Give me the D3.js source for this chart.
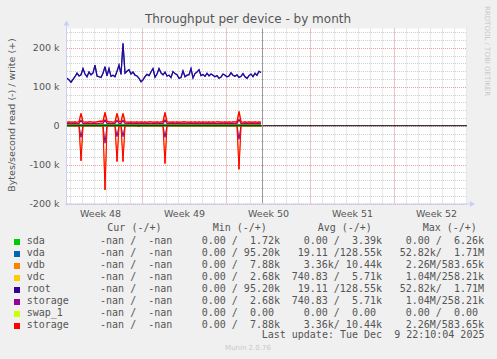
<!DOCTYPE html>
<html><head><meta charset="utf-8">
<script src="https://cdn.jsdelivr.net/npm/d3@7"></script>
<style>html,body{margin:0;padding:0;background:#f0f0f0;}svg{display:block;}</style>
</head><body>
<svg id="chart" width="497" height="359"></svg>
<script>
// ---------------- data ----------------
const title = "Throughput per device - by month";
const yAxisTitle = "Bytes/second read (-) / write (+)";
const yTicks = [-200, -100, 0, 100, 200];          // k
const weekLabels = ["Week 48", "Week 49", "Week 50", "Week 51", "Week 52"];
const weekLabelDays = [2.8, 9.8, 16.8, 23.8, 30.8];  // label centre, days from graph start
const weekStartDays = [6.275, 13.275, 20.275, 27.275];
const nowDay = 16.22;
const sampleStepDays = 1 / 6;                         // 4 hours

// values in k bytes/s, one sample every 4 h from the graph start
const rootWrite = [122,118,112,119,126,135,128,131,147,133,
  126,138,131,136,156,128,126,124,135,152,
  128,147,127,130,126,140,156,132,212,135,
  140,144,133,138,130,128,122,113,118,126,
  132,129,138,147,125,133,147,136,131,138,
  128,130,124,139,134,131,122,124,141,126,
  130,131,147,123,134,138,144,129,132,127,
  135,128,133,130,126,129,122,125,133,130,
  126,128,136,130,127,131,124,127,134,126,
  122,129,133,126,135,130,140,137];
const rootRead = [0,0,0,0,0,0,0,0,0,0, 0,0,0,0,0,0,0,0,0,0, 0,0,0,0,0,0,0,0,0,0,
  0,0,0,0,0,0,-2,0,0,0, 0,0,0,0,0,0,0,0,0,0, 0,0,0,0,0,0,0,0,0,0,
  0,0,0,0,0,0,0,0,0,0, 0,0,0,0,0,0,0,0,0,0, 0,0,0,0,0,0,0,0,0,0, 0,0,0,0,0,0,0,0];
const storageWrite = [9,10,9,9,10,9,10,32,10,9,
  9,10,10,9,9,10,11,12,11,34,
  11,10,10,9,10,32,11,10,32,10,
  9,9,10,9,9,10,9,10,9,10,
  9,10,10,9,9,10,9,10,10,34,
  10,9,9,10,9,10,9,9,10,10,
  9,9,10,9,10,9,10,9,10,9,
  9,10,9,10,9,10,10,9,9,10,
  9,10,9,10,10,9,37,10,9,10,
  9,10,9,9,10,9,10,9];
const storageRead = [0,0,0,0,0,0,0,-90,0,0, 0,0,0,0,0,0,0,0,0,-165, 0,0,0,0,0,-92,0,0,-92,0,
  0,0,0,0,0,0,0,0,0,0, 0,0,0,0,0,0,0,0,0,-97, 0,0,0,0,0,0,0,0,0,0,
  0,0,0,0,0,0,0,0,0,0, 0,0,0,0,0,0,0,0,0,0, 0,0,0,0,0,0,-112,0,0,0, 0,0,0,0,0,0,0,0];
const storage2Write = [6,6,5,6,6,5,6,14,6,5, 6,6,5,6,6,5,6,7,6,15, 6,6,5,6,6,14,6,6,14,6,
  5,6,6,5,6,6,5,6,6,5, 6,6,5,6,6,5,6,6,5,15, 6,5,6,6,5,6,6,5,6,6,
  5,6,6,5,6,6,5,6,6,5, 6,6,5,6,6,5,6,6,5,6, 6,5,6,6,5,6,16,6,5,6, 6,5,6,6,5,6,6,5];
const storage2Read = [0,0,0,0,0,0,0,-30,0,0, 0,0,0,0,0,0,0,0,0,-45, 0,0,0,0,0,-28,0,0,-28,0,
  0,0,0,0,0,0,0,0,0,0, 0,0,0,0,0,0,0,0,0,-30, 0,0,0,0,0,0,0,0,0,0,
  0,0,0,0,0,0,0,0,0,0, 0,0,0,0,0,0,0,0,0,0, 0,0,0,0,0,0,-35,0,0,0, 0,0,0,0,0,0,0,0];
const sdaWrite = [3,3,3.5,3,3,3.5,3,3,3.5,3, 3,3.5,3,3,3.5,3,3,3,3.5,3, 3,3.5,3,3,3,3.5,3,3,3.5,3,
  3,3,3.5,3,3,3.5,3,3,3,3.5, 3,3,3.5,3,3,3.5,3,3,3,3.5, 3,3,3.5,3,3,3,3.5,3,3,3.5,
  3,3,3,3.5,3,3,3.5,3,3,3, 3.5,3,3,3.5,3,3,3,3.5,3,3, 3.5,3,3,3,3.5,3,3,3.5,3,3, 3,3.5,3,3,3.5,3,3,3.5];
const swapValues = [0,0,0,0,0,0,0,0,0,0, 0,0,0,0,0,0,0,0,0,0, 0,0,0,0,0,0,0,0,0,0,
  0,0,0,0,0,0,0,0,0,0, 0,0,0,0,0,0,0,0,0,0, 0,0,0,0,0,0,0,0,0,0,
  0,0,0,0,0,0,0,0,0,0, 0,0,0,0,0,0,0,0,0,0, 0,0,0,0,0,0,0,0,0,0, 0,0,0,0,0,0,0,0];

const deviceNames = ["sda", "vda", "vdb", "vdc", "root", "storage", "swap_1", "storage"];
const deviceColors = ["#00CC00", "#0066B3", "#FF8000", "#FFCC00", "#330099", "#990099", "#CCFF00", "#FF0000"];
const deviceWrite = [sdaWrite, rootWrite, storageWrite, storage2Write, rootWrite, storage2Write, swapValues, storageWrite];
const deviceRead  = [swapValues, rootRead, storageRead, storage2Read, rootRead, storage2Read, swapValues, storageRead];
const legendHeader = ["Cur (-/+)", "Min (-/+)", "Avg (-/+)", "Max (-/+)"];
const curCol = ["  -nan /  -nan ","  -nan /  -nan ","  -nan /  -nan ","  -nan /  -nan ","  -nan /  -nan ","  -nan /  -nan ","  -nan /  -nan ","  -nan /  -nan "];
const minCol = ["  0.00 /  1.72k","  0.00 / 95.20k","  0.00 /  7.88k","  0.00 /  2.68k","  0.00 / 95.20k","  0.00 /  2.68k","  0.00 /  0.00 ","  0.00 /  7.88k"];
const avgCol = ["  0.00 /  3.39k"," 19.11 /128.55k","  3.36k/ 10.44k","740.83 /  5.71k"," 19.11 /128.55k","740.83 /  5.71k","  0.00 /  0.00 ","  3.36k/ 10.44k"];
const maxCol = ["  0.00 /  6.26k"," 52.82k/  1.71M","  2.26M/583.65k","  1.04M/258.21k"," 52.82k/  1.71M","  1.04M/258.21k","  0.00 /  0.00 ","  2.26M/583.65k"];
const lastUpdate = "Last update: Tue Dec  9 22:10:04 2025";
const version = "Munin 2.0.76";
const watermark = "RRDTOOL / TOBI OETIKER";

// ---------------- drawing ----------------
const svg = d3.select("#chart");
const P = {left: 67, right: 467, top: 28.5, bottom: 203.5};
const x = d3.scaleLinear().domain([0, 33.333]).range([P.left, P.right]);
const y = d3.scaleLinear().domain([-200, 250]).range([P.bottom, P.top]);
const sans = "'DejaVu Sans', sans-serif";
const mono = "'DejaVu Sans Mono', monospace";
const textCol = "#555";

svg.append("rect").attr("width", 497).attr("height", 359).attr("fill", "#f0f0f0");
svg.append("rect").attr("x", P.left).attr("y", P.top).attr("width", P.right - P.left)
  .attr("height", P.bottom - P.top).attr("fill", "#ffffff");

// minor grid
const g = svg.append("g");
d3.range(-200, 241, 20).forEach(v => {
  g.append("line").attr("x1", P.left).attr("x2", P.right).attr("y1", Math.round(y(v)) + 0.5).attr("y2", Math.round(y(v)) + 0.5)
    .attr("stroke", "#d0d0d0").attr("stroke-dasharray", "1,1");
});
d3.range(0.275, 33.3, 1).forEach(d => {
  g.append("line").attr("y1", P.top).attr("y2", P.bottom).attr("x1", Math.round(x(d)) + 0.5).attr("x2", Math.round(x(d)) + 0.5)
    .attr("stroke", "#d0d0d0").attr("stroke-dasharray", "1,1");
});
// major grid
yTicks.forEach(v => {
  g.append("line").attr("x1", P.left).attr("x2", P.right).attr("y1", Math.round(y(v)) + 0.5).attr("y2", Math.round(y(v)) + 0.5)
    .attr("stroke", "#eea0a0").attr("stroke-dasharray", "1,1");
});
weekStartDays.forEach(d => {
  g.append("line").attr("y1", P.top).attr("y2", P.bottom).attr("x1", Math.round(x(d)) + 0.5).attr("x2", Math.round(x(d)) + 0.5)
    .attr("stroke", "#eea0a0").attr("stroke-dasharray", "1,1");
});

// y tick labels
yTicks.forEach(v => {
  svg.append("text").attr("x", 59.5).attr("y", y(v) + 3.5).attr("text-anchor", "end")
    .attr("font-family", sans).attr("font-size", 9.5).attr("fill", textCol)
    .text(v === 0 ? "0" : v + " k");
});
// week labels
weekLabels.forEach((t, i) => {
  svg.append("text").attr("x", x(weekLabelDays[i])).attr("y", 216.5).attr("text-anchor", "middle")
    .attr("font-family", sans).attr("font-size", 9.5).attr("fill", textCol).text(t);
});

// series
const line = d3.line().x((d, i) => x(i * sampleStepDays)).y(d => y(d));
const series = svg.append("g").attr("fill", "none").attr("stroke-width", 1);
deviceRead.forEach((arr, i) => {
  series.append("path").attr("d", line(arr)).attr("stroke", deviceColors[i]);
});
const series2 = svg.append("g").attr("fill", "none").attr("stroke-width", 1.2);
deviceWrite.forEach((arr, i) => {
  series2.append("path").attr("d", line(arr)).attr("stroke", deviceColors[i]);
});
// zero line (drawn on top)
svg.append("line").attr("x1", P.left).attr("x2", P.right).attr("y1", y(0)).attr("y2", y(0))
  .attr("stroke", "#000").attr("stroke-width", 1);

// now line
svg.append("line").attr("x1", Math.round(x(nowDay)) + 0.5).attr("x2", Math.round(x(nowDay)) + 0.5)
  .attr("y1", P.top).attr("y2", P.bottom).attr("stroke", "#999").attr("stroke-width", 1);

// axes
const axCol = "#c8d0f4";
svg.append("line").attr("x1", P.left - 0.5).attr("x2", P.left - 0.5).attr("y1", P.bottom + 2).attr("y2", P.top - 4)
  .attr("stroke", axCol);
svg.append("path").attr("d", `M${P.left - 3.5},${P.top - 3} L${P.left - 0.5},${P.top - 8} L${P.left + 2.5},${P.top - 3} Z`).attr("fill", axCol);
svg.append("line").attr("x1", P.left - 2).attr("x2", P.right + 4).attr("y1", P.bottom + 0.5).attr("y2", P.bottom + 0.5)
  .attr("stroke", axCol);
svg.append("path").attr("d", `M${P.right + 3},${P.bottom - 2.5} L${P.right + 8},${P.bottom + 0.5} L${P.right + 3},${P.bottom + 3.5} Z`).attr("fill", axCol);

// titles
svg.append("text").attr("x", 248).attr("y", 22.5).attr("text-anchor", "middle")
  .attr("font-family", sans).attr("font-size", 12).attr("fill", textCol).text(title);
svg.append("text").attr("transform", "translate(14.5,115) rotate(-90)").attr("text-anchor", "middle")
  .attr("font-family", sans).attr("font-size", 9.5).attr("fill", textCol).text(yAxisTitle);
svg.append("text").attr("transform", "translate(484.5,6) rotate(90)").attr("text-anchor", "start")
  .attr("font-family", sans).attr("font-size", 7).attr("fill", "#c8c8c8").text(watermark);

// legend
const leg = svg.append("g").attr("font-family", mono).attr("font-size", 10).attr("fill", textCol)
  .style("white-space", "pre");
const headerX = [107.3, 212.7, 317.7, 422.7];
legendHeader.forEach((t, i) => {
  leg.append("text").attr("x", headerX[i]).attr("y", 231).attr("xml:space", "preserve").text(t);
});
const colX = [88, 189.7, 291.7, 393.7];
deviceNames.forEach((n, i) => {
  const by = 244 + i * 12;
  leg.append("rect").attr("x", 14).attr("y", by - 5).attr("width", 6).attr("height", 6).attr("fill", deviceColors[i]);
  leg.append("text").attr("x", 26.7).attr("y", by).text(n);
  [curCol, minCol, avgCol, maxCol].forEach((col, j) => {
    leg.append("text").attr("x", colX[j]).attr("y", by).attr("xml:space", "preserve").text(col[i]);
  });
});
leg.append("text").attr("x", 261.7).attr("y", 338).attr("xml:space", "preserve").text(lastUpdate);
svg.append("text").attr("x", 248).attr("y", 350).attr("text-anchor", "middle")
  .attr("font-family", sans).attr("font-size", 7).attr("fill", "#c8c8c8").text(version);
</script>
</body></html>
